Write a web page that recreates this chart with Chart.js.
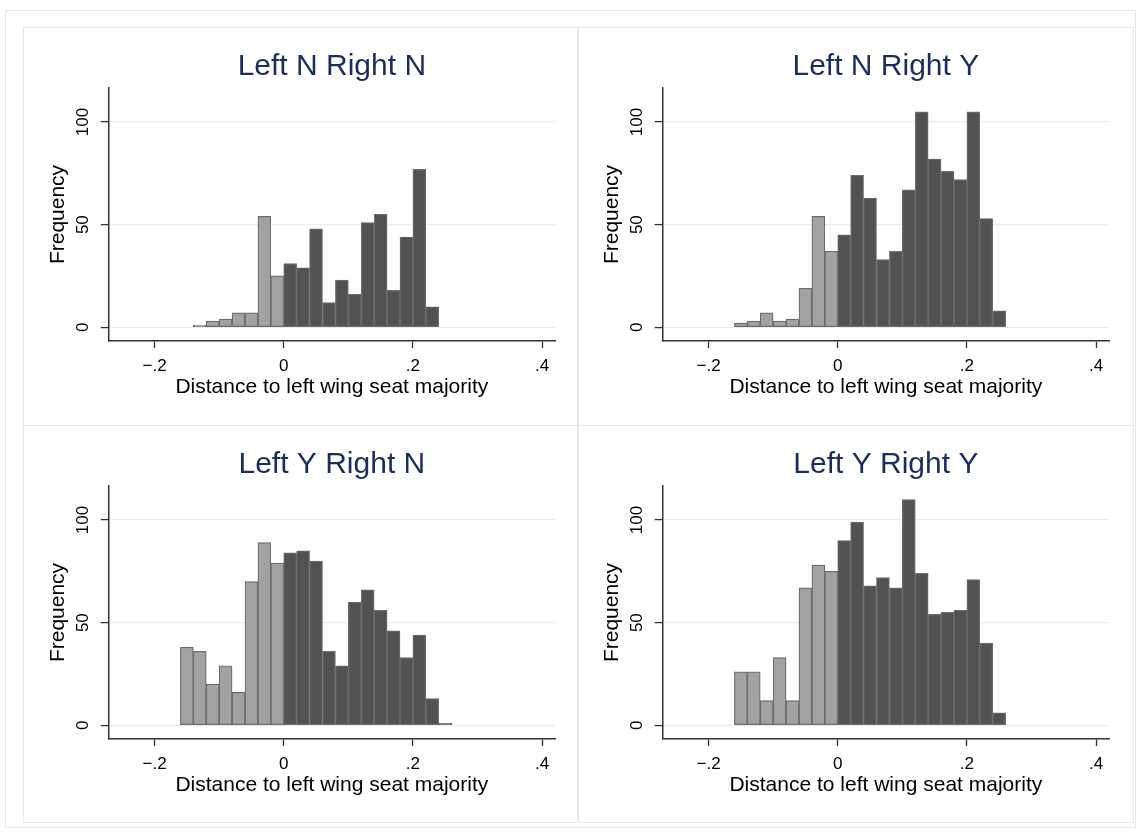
<!DOCTYPE html>
<html><head><meta charset="utf-8">
<script src="https://cdn.jsdelivr.net/npm/chart.js@4.4.1/dist/chart.umd.min.js"></script>
<style>
html,body{margin:0;padding:0;background:#fff;}
body{width:1137px;height:835px;position:relative;overflow:hidden;}
.box{position:absolute;border:1px solid #e3ebee;box-sizing:border-box;}
canvas{position:absolute;}
</style></head><body>
<div class="box" style="left:5px;top:10px;width:1131px;height:818px"></div>
<div class="box" style="left:23px;top:27px;width:556px;height:399px"></div>
<div class="box" style="left:577px;top:27px;width:557px;height:399px"></div>
<div class="box" style="left:23px;top:425px;width:556px;height:398px"></div>
<div class="box" style="left:577px;top:425px;width:557px;height:398px"></div>
<canvas id="c0" width="555" height="398" style="left:24px;top:28px"></canvas>
<canvas id="c1" width="555" height="398" style="left:578px;top:28px"></canvas>
<canvas id="c2" width="555" height="398" style="left:24px;top:426px"></canvas>
<canvas id="c3" width="555" height="398" style="left:578px;top:426px"></canvas>
<script>
// Bin centres (bin width 0.02)
const leftCenters  = [-0.15,-0.13,-0.11,-0.09,-0.07,-0.05,-0.03,-0.01];
const rightCenters = [0.01,0.03,0.05,0.07,0.09,0.11,0.13,0.15,0.17,0.19,0.21,0.23,0.25];

// Frequencies
const lnrnLeft  = [null,1,3,4,7,7,54,25];
const lnrnRight = [31,29,48,12,23,16,51,55,18,44,77,10,null];
const lnryLeft  = [2,3,7,3,4,19,54,37];
const lnryRight = [45,74,63,33,37,67,105,82,76,72,105,53,8];
const lyrnLeft  = [38,36,20,29,16,70,89,79];
const lyrnRight = [84,85,80,36,29,60,66,56,46,33,44,13,1];
const lyryLeft  = [26,26,12,33,12,67,78,75];
const lyryRight = [90,99,68,72,67,110,74,54,55,56,71,40,6];

const panelTitles = ['Left N Right N','Left N Right Y','Left Y Right N','Left Y Right Y'];
const xTickValues = [-0.2,0,0.2,0.4];
const xTickLabels = ['\u2212.2','0','.2','.4'];
const yTickValues = [0,50,100];
const yTickLabels = ['0','50','100'];
const xTitle = 'Distance to left wing seat majority';
const yTitle = 'Frequency';

const FONT = '"Liberation Sans", Arial, Helvetica, sans-serif';

const panelTitle = {
  id: 'panelTitle',
  afterDraw(chart, args, opts) {
    const {ctx, chartArea} = chart;
    ctx.save();
    ctx.font = '30px ' + FONT;
    ctx.fillStyle = '#1c2c5c';
    ctx.textAlign = 'center';
    ctx.textBaseline = 'alphabetic';
    ctx.fillText(opts.text, (chartArea.left + chartArea.right) / 2, opts.y);
    ctx.restore();
  }
};

function makeChart(id, title, leftVals, rightVals) {
  const toPts = (xs, ys) => xs.map((x, i) => ({x: x, y: ys[i]}));
  new Chart(document.getElementById(id), {
    type: 'bar',
    data: {
      datasets: [
        {data: toPts(leftCenters, leftVals), backgroundColor: '#a2a2a2', borderColor: '#6b6b6b',
         borderWidth: 1.2, borderSkipped: false, grouped: false, categoryPercentage: 1, barPercentage: 1},
        {data: toPts(rightCenters, rightVals), backgroundColor: '#525252', borderColor: '#6b6b6b',
         borderWidth: 1.2, borderSkipped: false, grouped: false, categoryPercentage: 1, barPercentage: 1}
      ]
    },
    options: {
      responsive: false,
      animation: false,
      layout: {padding: {left: 0, right: 24, top: 60, bottom: 0}},
      plugins: {legend: {display: false}, tooltip: {enabled: false}, panelTitle: {text: title, y: 47.3}},
      scales: {
        x: {
          type: 'linear', min: -0.271, max: 0.42, offset: false,
          afterBuildTicks: s => { s.ticks = xTickValues.map(v => ({value: v})); },
          afterFit: s => { s.height = 85; },
          ticks: {callback: (v, i) => xTickLabels[i], font: {family: FONT, size: 17}, color: '#000', padding: 8, maxRotation: 0, autoSkip: false},
          grid: {drawOnChartArea: false, drawTicks: true, tickLength: 7, tickColor: '#333', tickWidth: 1.3, offset: false},
          border: {display: true, color: '#333', width: 1.5},
          title: {display: true, text: xTitle, font: {family: FONT, size: 21}, color: '#000', padding: {top: 0, bottom: 25.7}}
        },
        y: {
          min: -6.7, max: 116.6,
          afterBuildTicks: s => { s.ticks = yTickValues.map(v => ({value: v})); },
          afterFit: s => { s.width = 84.7; },
          ticks: {callback: (v, i) => yTickLabels[i], font: {family: FONT, size: 17}, color: '#000', padding: 3,
                  minRotation: 90, maxRotation: 90, crossAlign: 'center', autoSkip: false},
          grid: {color: '#e7eef1', lineWidth: 1.2, drawTicks: true, tickLength: 8, tickColor: '#333', tickWidth: 1.3},
          border: {display: true, color: '#333', width: 1.5},
          title: {display: true, text: yTitle, font: {family: FONT, size: 21}, color: '#000', padding: {top: 21.7, bottom: 0}}
        }
      }
    },
    plugins: [panelTitle]
  });
}

makeChart('c0', panelTitles[0], lnrnLeft, lnrnRight);
makeChart('c1', panelTitles[1], lnryLeft, lnryRight);
makeChart('c2', panelTitles[2], lyrnLeft, lyrnRight);
makeChart('c3', panelTitles[3], lyryLeft, lyryRight);
</script>
</body></html>
